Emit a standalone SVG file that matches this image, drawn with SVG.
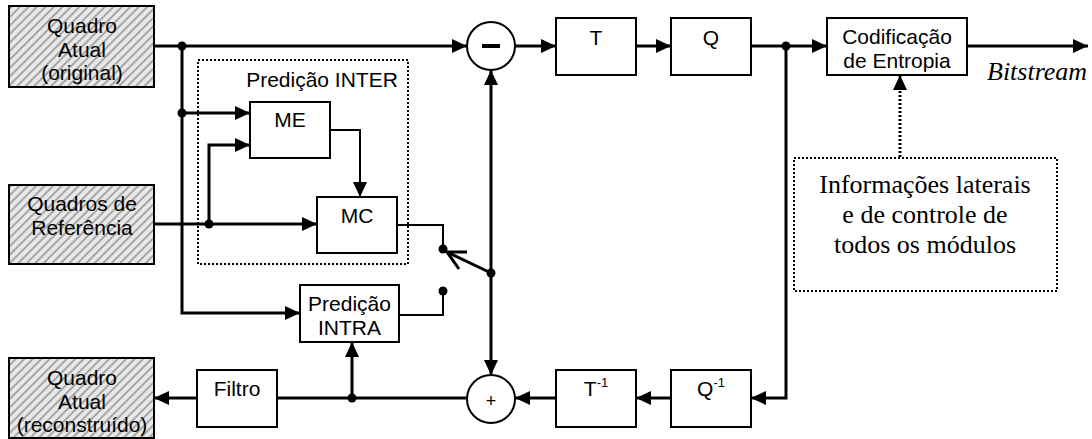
<svg xmlns="http://www.w3.org/2000/svg" width="1092" height="439" viewBox="0 0 1092 439">
<defs>
<pattern id="hatch" patternUnits="userSpaceOnUse" width="6" height="6" patternTransform="rotate(45)">
<rect width="6" height="6" fill="#e8e8e8"/>
<line x1="1" y1="0" x2="1" y2="6" stroke="#a6a6a6" stroke-width="2"/>
</pattern>
<marker id="arr" markerUnits="userSpaceOnUse" markerWidth="15" markerHeight="14" refX="15" refY="7" orient="auto">
<path d="M0,0 L15,7 L0,14 z" fill="#000"/>
</marker>
</defs>
<style>
.box{fill:#fff;stroke:#000;stroke-width:2}
.hbox{fill:url(#hatch);stroke:#000;stroke-width:2}
.dbox{fill:none;stroke:#000;stroke-width:2;stroke-dasharray:2,2}
.s{font-family:"Liberation Sans",Arial,sans-serif;font-size:21px;fill:#000;text-anchor:middle}
.r{font-family:"Liberation Serif","Times New Roman",serif;font-size:26px;fill:#000;text-anchor:middle}
.w{fill:none;stroke:#000;stroke-width:3}
.t{fill:none;stroke:#000;stroke-width:2}
.a{marker-end:url(#arr)}
.dot{fill:#000}
</style>
<g id="connectors">
<path class="w a" d="M154,46 H467"/>
<path class="w a" d="M182,46 V313 H300"/>
<path class="w a" d="M182,113 H250"/>
<path class="w a" d="M154,224 H317"/>
<path class="w a" d="M209,224 V145 H250"/>
<path class="t a" d="M330,130 H360 V197"/>
<path class="t" d="M397,225 H443 V249"/>
<path class="t" d="M399,315 H443 V291"/>
<path class="w" d="M491,273 L447,252"/>
<path class="w" d="M467,252 L447,252 L459,269"/>
<path class="w a" d="M491,273 V70"/>
<path class="w a" d="M491,273 V375"/>
<path class="w a" d="M515,46 H556"/>
<path class="w a" d="M636,46 H671"/>
<path class="w a" d="M751,46 H827"/>
<path class="w a" d="M967,46 H1088"/>
<path class="w a" d="M786,46 V398 H751"/>
<path class="w a" d="M671,398 H636"/>
<path class="w a" d="M556,398 H515"/>
<path class="w" d="M467,398 H277"/>
<path class="w a" d="M197,398 H154"/>
<path class="w a" d="M352,398 V342"/>
<path class="a" d="M900,157 V75" fill="none" stroke="#000" stroke-width="3" stroke-dasharray="2,2"/>
<circle class="dot" cx="182" cy="46" r="4.5"/>
<circle class="dot" cx="182" cy="113" r="4.5"/>
<circle class="dot" cx="209" cy="224" r="4.5"/>
<circle class="dot" cx="443" cy="249" r="4.5"/>
<circle class="dot" cx="443" cy="291" r="4.5"/>
<circle class="dot" cx="491" cy="273" r="4.5"/>
<circle class="dot" cx="786" cy="46" r="4.5"/>
<circle class="dot" cx="352" cy="398" r="4.5"/>
</g>
<g id="quadro-atual-original">
<rect class="hbox" x="9" y="6" width="145" height="81"/>
<text class="s" x="82" y="33">Quadro</text>
<text class="s" x="82" y="56.5">Atual</text>
<text class="s" x="82" y="80">(original)</text>
</g>
<g id="quadros-referencia">
<rect class="hbox" x="9" y="185" width="145" height="79"/>
<text class="s" x="82" y="211">Quadros de</text>
<text class="s" x="82" y="235">Referência</text>
</g>
<g id="quadro-atual-reconstruido">
<rect class="hbox" x="9" y="358" width="145" height="80"/>
<text class="s" x="82" y="385">Quadro</text>
<text class="s" x="82" y="409">Atual</text>
<text class="s" x="82" y="432">(reconstruído)</text>
</g>
<g id="predicao-inter">
<rect class="dbox" x="198" y="60" width="210" height="204"/>
<text class="s" x="322" y="87">Predição INTER</text>
</g>
<g id="me">
<rect class="box" x="250" y="102" width="80" height="56"/>
<text class="s" x="290" y="127">ME</text>
</g>
<g id="mc">
<rect class="box" x="317" y="197" width="80" height="56"/>
<text class="s" x="357" y="223">MC</text>
</g>
<g id="predicao-intra">
<rect class="box" x="300" y="285" width="99" height="57"/>
<text class="s" x="349.5" y="311">Predição</text>
<text class="s" x="349.5" y="335">INTRA</text>
</g>
<g id="subtrator">
<circle cx="491" cy="46" r="24" fill="#fff" stroke="#000" stroke-width="2"/>
<rect x="482" y="44" width="18" height="4" fill="#000"/>
</g>
<g id="somador">
<circle cx="491" cy="399" r="24" fill="#fff" stroke="#000" stroke-width="2"/>
<text x="491" y="407" font-family="Liberation Sans, Arial, sans-serif" font-size="18" text-anchor="middle">+</text>
</g>
<g id="t">
<rect class="box" x="556" y="18" width="80" height="57"/>
<text class="s" x="596" y="45">T</text>
</g>
<g id="q">
<rect class="box" x="671" y="18" width="80" height="57"/>
<text class="s" x="711" y="45">Q</text>
</g>
<g id="codificacao">
<rect class="box" x="827" y="18" width="140" height="57"/>
<text class="s" x="897" y="44">Codificação</text>
<text class="s" x="897" y="68">de Entropia</text>
</g>
<g id="bitstream">
<text x="987" y="80" font-family="Liberation Serif, Times New Roman, serif" font-style="italic" font-size="26">Bitstream</text>
</g>
<g id="informacoes">
<rect class="dbox" x="794" y="158" width="263" height="133"/>
<text class="r" x="925" y="193">Informações laterais</text>
<text class="r" x="925" y="223">e de controle de</text>
<text class="r" x="925" y="253">todos os módulos</text>
</g>
<g id="q-inv">
<rect class="box" x="671" y="370" width="80" height="57"/>
<text class="s" x="711" y="396">Q<tspan font-size="13" dy="-9">-1</tspan></text>
</g>
<g id="t-inv">
<rect class="box" x="556" y="370" width="80" height="57"/>
<text class="s" x="596" y="396">T<tspan font-size="13" dy="-9">-1</tspan></text>
</g>
<g id="filtro">
<rect class="box" x="197" y="370" width="80" height="57"/>
<text class="s" x="237" y="396">Filtro</text>
</g>
</svg>
